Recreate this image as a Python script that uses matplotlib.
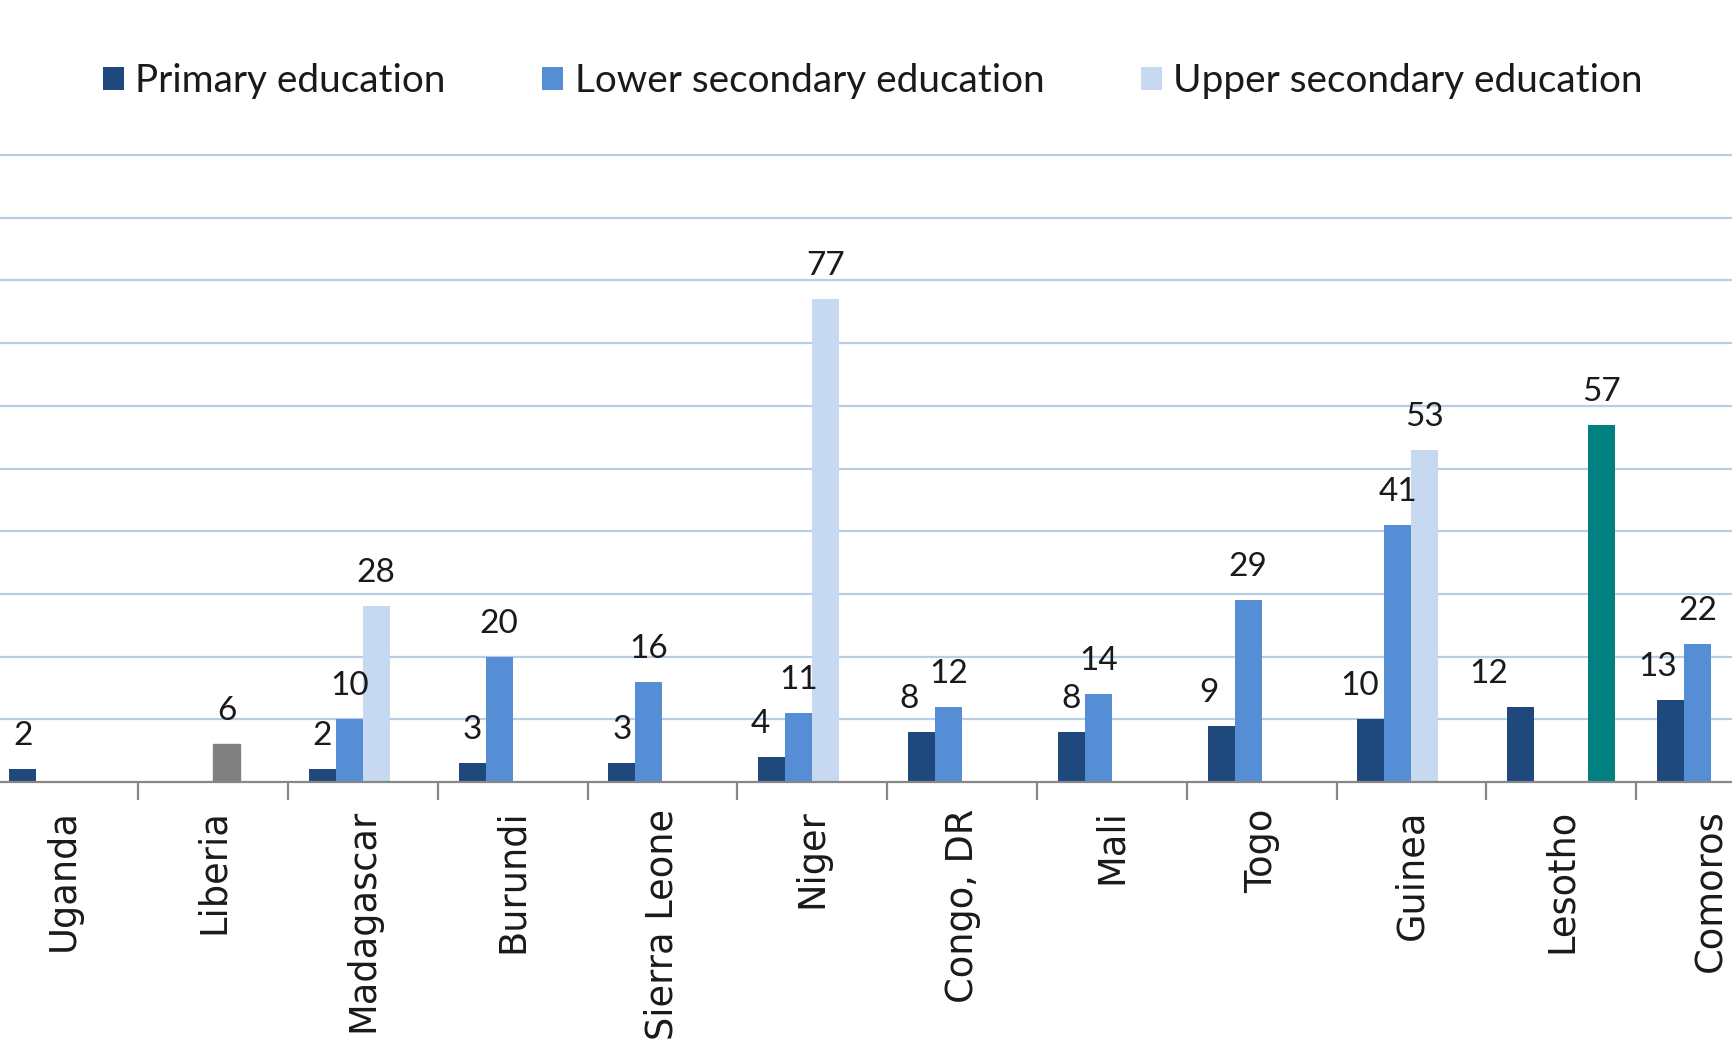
import numpy as np
import matplotlib
matplotlib.use("Agg")
import matplotlib.pyplot as plt
from matplotlib.patches import Patch

nan = np.nan
countries = ["Uganda", "Liberia", "Madagascar", "Burundi", "Sierra Leone", "Niger",
             "Congo, DR", "Mali", "Togo", "Guinea", "Lesotho", "Comoros"]
primary = [2, nan, 2, 3, 3, 4, 8, 8, 9, 10, 12, 13]
lower_secondary = [nan, nan, 10, 20, 16, 11, 12, 14, 29, 41, nan, 22]
upper_secondary = [nan, 6, 28, nan, nan, 77, nan, nan, nan, 53, nan, nan]
other_level = [nan, nan, nan, nan, nan, nan, nan, nan, nan, nan, 57, nan]
series_names = ["Primary education", "Lower secondary education", "Upper secondary education"]

# label nudges for primary labels (pixels)
primary_label_dx = [0, 0, 0, 0, 0, -11, -13, 0, -12, -11, -32, -13]

C_PRIM = "#1F497D"
C_LOW = "#558ED5"
C_UP = "#C6D9F1"
C_GRAY = "#808080"
C_TEAL = "#008080"
C_GRID = "#B9CDE5"
C_AXIS = "#878787"

W, H = 1732, 1044
fig = plt.figure(figsize=(W / 100, H / 100), dpi=100)
fig.patch.set_facecolor("white")

ymax = 101
y0_px = 782
ppu = 6.27
top_px = y0_px - ymax * ppu
ax = fig.add_axes([0, (H - y0_px) / H, 1, (y0_px - top_px) / H])
ax.set_ylim(0, ymax)
ax.set_xlim(-0.422, 11.14)

x = np.arange(len(countries))
w = 0.18
offs = [-1.5 * w, -0.5 * w, 0.5 * w, 1.5 * w]

for yv in range(10, 101, 10):
    ax.axhline(yv, color=C_GRID, lw=1.6, zorder=0)

b0 = ax.bar(x + offs[0], primary, w, color=C_PRIM, zorder=2)
b1 = ax.bar(x + offs[1], lower_secondary, w, color=C_LOW, zorder=2)
b2 = ax.bar(x + offs[2], upper_secondary, w, color=C_UP, zorder=2)
b3 = ax.bar(x + offs[3], other_level, w, color=C_TEAL, zorder=2)
b2[countries.index("Liberia")].set_color(C_GRAY)

px2pt = 72 / 100
label_font = dict(family="Lato", fontsize=24, color="#1a1a1a")

def label(vals, off, dxs=None):
    for i, v in enumerate(vals):
        if v is None or np.isnan(v):
            continue
        dx = (dxs[i] if dxs else 0) * px2pt
        ax.annotate(f"{v:g}", (x[i] + off, v), xytext=(dx, 24 * px2pt),
                    textcoords="offset points", ha="center", va="baseline",
                    **label_font, annotation_clip=False)

label(primary, offs[0], primary_label_dx)
label(lower_secondary, offs[1])
label(upper_secondary, offs[2])
label(other_level, offs[3])

for s in ["top", "left", "right"]:
    ax.spines[s].set_visible(False)
ax.spines["bottom"].set_color(C_AXIS)
ax.spines["bottom"].set_linewidth(1.6)
ax.set_yticks([])

ax.set_xticks(x)
ax.set_xticklabels(countries, rotation=90, va="top", ha="center",
                   family="DejaVu Sans", fontsize=26.5, color="#1a1a1a")
ax.tick_params(axis="x", which="major", length=0, pad=27 * px2pt)
ax.set_xticks(np.arange(0.5, 11.5, 1.0), minor=True)
ax.tick_params(axis="x", which="minor", length=18 * px2pt, width=1.6, color=C_AXIS,
               direction="out")

handles = [Patch(facecolor=c, edgecolor="none") for c in (C_PRIM, C_LOW, C_UP)]
fig.legend(handles, series_names, loc="center", bbox_to_anchor=(0.504, 1 - 81 / H),
           ncol=3, frameon=False, prop=dict(family="Lato", size=27.9),
           handlelength=0.53, handleheight=0.53, handletextpad=0.3,
           columnspacing=2.5, labelcolor="#1a1a1a")

fig.savefig("out.png", dpi=100, facecolor="white")
